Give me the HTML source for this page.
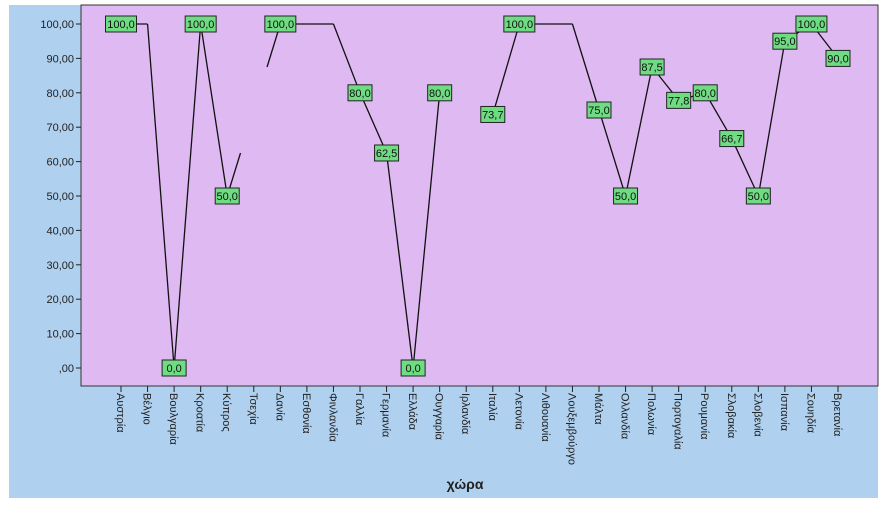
<!DOCTYPE html>
<html><head><meta charset="utf-8"><style>
body{margin:0;background:#fff;}
svg text{font-family:"Liberation Sans","DejaVu Sans",sans-serif;}
</style></head><body>
<svg width="888" height="505" xmlns="http://www.w3.org/2000/svg">
<rect x="9" y="5" width="869" height="493" fill="#afd0ee"/>
<rect x="81" y="5" width="797" height="381" fill="#dfb9f2" stroke="#333" stroke-width="1"/>
<g id="yaxis"></g>
<g id="xaxis"></g>
<g id="series"></g>
<g id="labels"></g>
<text x="465" y="489" text-anchor="middle" font-size="14" font-weight="bold" fill="#222">χώρα</text>
</svg>
<script>
const categories=["Αυστρία","Βέλγιο","Βουλγαρία","Κροατία","Κύπρος","Τσεχία","Δανία","Εσθονία","Φινλανδία","Γαλλία","Γερμανία","Ελλάδα","Ουγγαρία","Ιρλανδία","Ιταλία","Λετονία","Λιθουανία","Λουξεμβούργο","Μάλτα","Ολλανδία","Πολωνία","Πορτογαλία","Ρουμανία","Σλοβακία","Σλοβενία","Ισπανία","Σουηδία","Βρετανία"];
const values=[100,100,0,100,50,75,100,100,100,80,62.5,0,80,null,73.7,100,100,100,75,50,87.5,77.8,80,66.7,50,95,100,90];
const showLabel=[1,0,1,1,1,0,1,0,0,1,1,1,1,0,1,1,0,0,1,1,1,1,1,1,1,1,1,1];
const gapAt=[5];
const yTicks=[0,10,20,30,40,50,60,70,80,90,100];
const NS="http://www.w3.org/2000/svg";
const x=i=>121+i*(838-121)/(categories.length-1);
const y=v=>368-v*3.44;
const fmt=v=>v.toFixed(1).replace('.',',');
function mk(t,a,p){const e=document.createElementNS(NS,t);for(const k in a)e.setAttribute(k,a[k]);p.appendChild(e);return e;}
const ya=document.getElementById('yaxis');
yTicks.forEach(t=>{
  const l=mk('line',{x1:76,x2:81,y1:y(t),y2:y(t),stroke:'#222'},ya);
  
  
  const tx=mk('text',{x:74,y:y(t)+4,'text-anchor':'end','font-size':11,fill:'#222'},ya);
  tx.textContent=t===0?',00':t+',00';
  
  
});
const xa=document.getElementById('xaxis');
categories.forEach((c,i)=>{
  const l=mk('line',{x1:x(i),x2:x(i),y1:386,y2:392,stroke:'#222'},xa);
  
  
  const tx=mk('text',{x:0,y:0,'font-size':11,fill:'#222',transform:`translate(${x(i)-4},393) rotate(90)`},xa);
  tx.textContent=c;
  
  
});
const s=document.getElementById('series');
for(let i=0;i<values.length-1;i++){
  const a=values[i],b=values[i+1];
  if(a==null||b==null)continue;
  let x1=x(i),y1=y(a),x2=x(i+1),y2=y(b);
  const mx=(x1+x2)/2,my=(y1+y2)/2;
  if(gapAt.includes(i)){x2=mx;y2=my;}
  if(gapAt.includes(i+1)){x2=mx;y2=my;}
  if(gapAt.includes(i)){x1=mx;y1=my;x2=x(i+1);y2=y(b);}
  const l=mk('line',{x1,y1,x2,y2,stroke:'#111','stroke-width':1.3},s);
  
  
}
const lb=document.getElementById('labels');
values.forEach((v,i)=>{
  if(v==null||!showLabel[i])return;
  const g=mk('g',{},lb);
  
  
  const w=v===100?31:24;
  mk('rect',{x:x(i)-w/2,y:y(v)-8,width:w,height:16,fill:'#6fdc83',stroke:'#222'},g);
  const t=mk('text',{x:x(i),y:y(v)+4,'text-anchor':'middle','font-size':11,fill:'#111'},g);
  t.textContent=fmt(v);
});
</script>
</body></html>
